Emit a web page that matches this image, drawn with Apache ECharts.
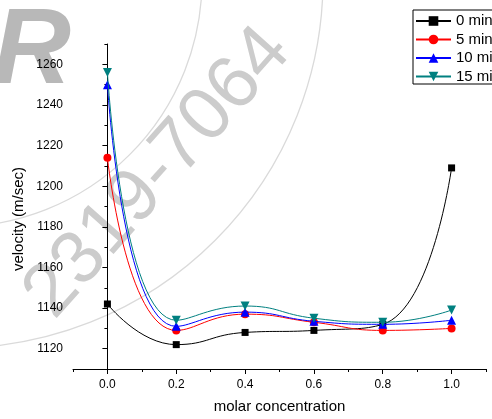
<!DOCTYPE html>
<html>
<head>
<meta charset="utf-8">
<script src="https://cdn.jsdelivr.net/npm/echarts@6/dist/echarts.min.js"></script>
<style>
html,body{margin:0;padding:0;background:#fff;}
#chart{width:492px;height:419px;}
</style>
</head>
<body>
<div id="chart"></div>
<script>
// ---- data ----
var concentrations = [0.0, 0.2, 0.4, 0.6, 0.8, 1.0];
var seriesNames = ['0 min', '5 min', '10 min', '15 min'];
var v0min  = [1142, 1122, 1128, 1129, 1132, 1209];
var v5min  = [1214, 1129, 1137, 1133, 1129, 1130];
var v10min = [1250, 1131, 1138, 1133.5, 1132, 1134];
var v15min = [1256, 1134, 1141, 1135, 1133, 1139];
var xTickLabels = [0.0, 0.2, 0.4, 0.6, 0.8, 1.0];
var xMinorTicks = [-0.1, 0.1, 0.3, 0.5, 0.7, 0.9, 1.1];
var yTickLabels = [1120, 1140, 1160, 1180, 1200, 1220, 1240, 1260];
var yMinorTicks = [1110, 1130, 1150, 1170, 1190, 1210, 1230, 1250, 1270];

function pairs(vals) {
  return concentrations.map(function (c, i) { return [c, vals[i]]; });
}

var FONT = 'Liberation Sans, Arial, sans-serif';
var chart = echarts.init(document.getElementById('chart'), null, {renderer: 'canvas'});

var colors = ['#000000', '#ff0000', '#0000ff', '#008080'];
var symbols = ['rect', 'circle', 'triangle', 'triangle'];
var rotates = [0, 0, 0, 180];
var sizes = [7, 8, 9, 9];
var valueSets = [v0min, v5min, v10min, v15min];

var series = seriesNames.map(function (n, i) {
  return {
    name: n,
    type: 'line',
    xAxisIndex: 0,
    yAxisIndex: 0,
    data: pairs(valueSets[i]),
    smooth: true,
    symbol: symbols[i],
    symbolRotate: rotates[i],
    symbolSize: sizes[i],
    showAllSymbol: true,
    lineStyle: {color: colors[i], width: 1},
    itemStyle: {color: colors[i]},
    emphasis: {disabled: true},
    animation: false,
    z: 3 + i
  };
});

var WM = '#cccccc';
var option = {
  animation: false,
  backgroundColor: '#fff',
  textStyle: {fontFamily: FONT},
  grid: {left: 73, right: 6, top: 44, bottom: 45, containLabel: false},
  legend: {
    orient: 'vertical',
    left: 413,
    top: 10,
    padding: [3.5, 60, 0, 2],
    itemWidth: 35,
    itemHeight: 12,
    itemGap: 3.5,
    borderColor: '#000',
    borderWidth: 1,
    textStyle: {fontFamily: FONT, fontSize: 15, color: '#000'},
    data: seriesNames
  },
  graphic: [
    {
      type: 'circle', z: 0, silent: true,
      shape: {cx: -45, cy: -20, r: 247},
      style: {fill: 'none', stroke: '#dadada', lineWidth: 1.3}
    },
    {
      type: 'circle', z: 0, silent: true,
      shape: {cx: -45, cy: -20, r: 368},
      style: {fill: 'none', stroke: '#dadada', lineWidth: 1.3}
    },
    {
      type: 'text', z: 0, silent: true, x: 32, y: 53,
      style: {text: 'R', font: 'italic bold 108px ' + FONT, fill: '#b8b8b8',
              align: 'center', verticalAlign: 'middle'}
    },
    {
      type: 'text', z: 0, silent: true, x: 158, y: 173, rotation: 0.843,
      style: {text: '2319-7064', font: '75px ' + FONT, fill: WM,
              align: 'center', verticalAlign: 'middle'}
    },
    {
      type: 'text', z: 10, x: 19, y: 219, rotation: Math.PI / 2,
      style: {text: 'velocity (m/sec)', font: '15px ' + FONT, fill: '#000',
              align: 'center', verticalAlign: 'middle'}
    }
  ],
  xAxis: [
    {
      type: 'value', min: -0.1, max: 1.1,
      name: 'molar concentration', nameLocation: 'middle', nameGap: 30,
      nameTextStyle: {fontFamily: FONT, fontSize: 15, color: '#000'},
      axisLine: {show: true, lineStyle: {color: '#000', width: 1}},
      axisTick: {show: true, inside: false, length: 5, customValues: xTickLabels,
                 lineStyle: {color: '#000'}},
      axisLabel: {show: true, customValues: xTickLabels, margin: 10,
                  fontFamily: FONT, fontSize: 12, color: '#000',
                  formatter: function (v) { return Number(v).toFixed(1); }},
      splitLine: {show: false}
    },
    {
      type: 'value', min: -0.1, max: 1.1, position: 'bottom', offset: 0,
      axisLine: {show: false},
      axisTick: {show: true, inside: false, length: 3, customValues: xMinorTicks,
                 lineStyle: {color: '#000'}},
      axisLabel: {show: false},
      splitLine: {show: false}
    }
  ],
  yAxis: [
    {
      type: 'value', min: 1110, max: 1270,
      axisLine: {show: true, lineStyle: {color: '#000', width: 1}},
      axisTick: {show: true, inside: false, length: 5, customValues: yTickLabels,
                 lineStyle: {color: '#000'}},
      axisLabel: {show: true, customValues: yTickLabels, margin: 10,
                  fontFamily: FONT, fontSize: 12, color: '#000',
                  formatter: function (v) { return String(v); }},
      splitLine: {show: false}
    },
    {
      type: 'value', min: 1110, max: 1270, position: 'left', offset: 0,
      axisLine: {show: false},
      axisTick: {show: true, inside: false, length: 3, customValues: yMinorTicks,
                 lineStyle: {color: '#000'}},
      axisLabel: {show: false},
      splitLine: {show: false}
    }
  ],
  series: series
};

chart.setOption(option);
</script>
</body>
</html>
